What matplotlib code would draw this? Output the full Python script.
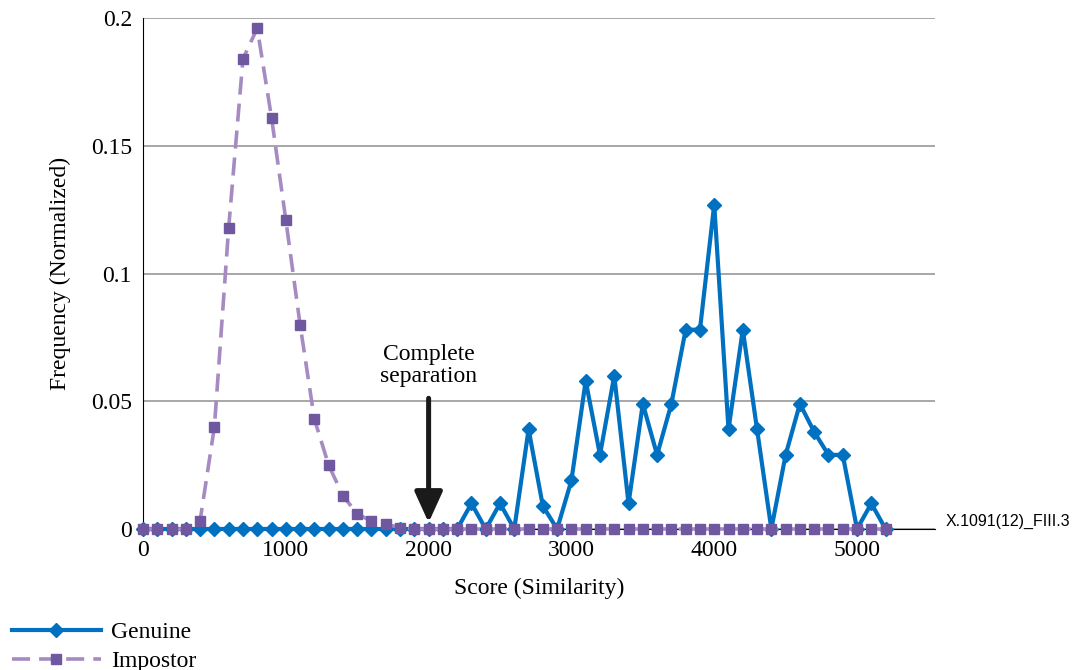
import matplotlib
matplotlib.use("Agg")
from matplotlib import pyplot as plt

# scores every 100 from 0 to 5200
scores = list(range(0, 5300, 100))

genuine = [0] * 23 + [
    0.010, 0, 0.010, 0, 0.039, 0.009, 0, 0.019, 0.058, 0.029,   # 2300-3200
    0.060, 0.010, 0.049, 0.029, 0.049, 0.078, 0.078, 0.127,     # 3300-4000
    0.039, 0.078, 0.039, 0, 0.029, 0.049, 0.038, 0.029, 0.029,  # 4100-4900
    0, 0.010, 0,                                                # 5000-5200
]

impostor = [
    0, 0, 0, 0, 0.0033, 0.040, 0.118, 0.184, 0.196, 0.161,      # 0-900
    0.121, 0.080, 0.043, 0.025, 0.013, 0.006, 0.003, 0.002,     # 1000-1700
    0.0005,                                                     # 1800
] + [0] * 34

y_ticks = [0, 0.05, 0.1, 0.15, 0.2]
y_labels = ["0", "0.05", "0.1", "0.15", "0.2"]
x_ticks = [0, 1000, 2000, 3000, 4000, 5000]

plt.rcParams["font.family"] = ["Liberation Serif", "DejaVu Serif"]
fs = 17

fig = plt.figure(figsize=(10.77, 6.70), dpi=100)
ax = fig.add_axes([143 / 1077, 1 - 529 / 670, 792 / 1077, 511 / 670])

blue = "#0070c0"
light_purple = "#a58bc2"
dark_purple = "#6f58a0"

ax.plot(scores, genuine, color=blue, lw=3, marker="D", ms=7,
        label="Genuine", zorder=3, clip_on=False)
ax.plot(scores, impostor, color=light_purple, lw=2.6, ls=(0, (5, 2.5)),
        marker="s", ms=6.5, mfc=dark_purple, mec=dark_purple,
        label="Impostor", zorder=4, clip_on=False)

ax.set_xlim(0, 5546)
ax.set_ylim(0, 0.2)
ax.set_yticks(y_ticks)
ax.set_yticklabels(y_labels)
ax.set_xticks(x_ticks)
ax.tick_params(axis="both", length=0, labelsize=fs, pad=8)
ax.grid(axis="y", color="#a0a0a0", lw=1.3)
ax.set_axisbelow(True)
for side in ["top", "right"]:
    ax.spines[side].set_visible(False)
ax.spines["left"].set_color("black")
ax.spines["bottom"].set_color("black")

ax.set_xlabel("Score (Similarity)", fontsize=fs, labelpad=12)
ax.set_ylabel("Frequency (Normalized)", fontsize=fs, labelpad=14)

ax.annotate("Complete\nseparation", xy=(2000, 0.0025), xytext=(2000, 0.0555),
            ha="center", va="bottom", fontsize=fs, linespacing=1.05,
            arrowprops=dict(arrowstyle="-|>,head_width=0.5,head_length=1.1",
                            color="#1a1a1a", lw=3.6, shrinkA=6, shrinkB=0))

fig.text(946 / 1077, 1 - 521 / 670, "X.1091(12)_FIII.3", family="Liberation Sans",
         fontsize=11.5, ha="left", va="center")

fig.legend(loc="lower left", bbox_to_anchor=(-0.002, -0.024), frameon=False,
           fontsize=fs, handlelength=3.75, handletextpad=0.45, labelspacing=0.3,
           borderaxespad=0.2)

fig.savefig("out.png", dpi=100)
